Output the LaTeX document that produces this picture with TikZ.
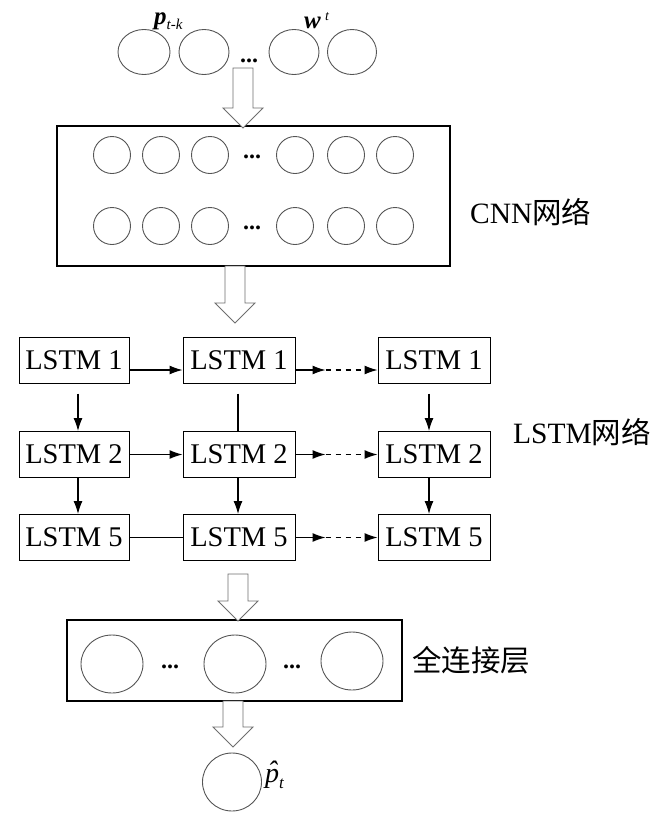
\documentclass[tikz,border=0pt]{standalone}
\usepackage{fontspec}
\setmainfont{Liberation Serif}
\newfontfamily\cjk{Noto Sans CJK SC}
\usetikzlibrary{arrows.meta,shapes.geometric,calc}
\definecolor{circgray}{RGB}{85,85,85}
\definecolor{arrgray}{RGB}{110,110,110}
\newcommand\hollowdown[3]{%
  \draw[hollow] (#1-10,#2) -- (#1+10,#2) -- (#1+10,#3-20) -- (#1+20,#3-20) -- (#1,#3) -- (#1-20,#3-20) -- (#1-10,#3-20) -- cycle;}
\tikzset{
  neuron/.style={ellipse,draw=circgray,line width=0.9pt,inner sep=0pt},
  hollow/.style={draw=arrgray,fill=white,line width=0.9pt,line join=miter},
  bigbox/.style={draw=black,line width=1.1pt,inner sep=0pt},
  lstmbox/.style={draw=black,line width=1pt,inner sep=0pt,minimum height=46pt,
    font=\fontsize{28.5}{30}\selectfont},
  conn/.style={line width=1.1pt,-{Latex[length=13pt,width=9pt]}},
  plain/.style={line width=1.1pt},
  dots/.style={inner sep=0pt,anchor=base,font=\bfseries\fontsize{24}{24}\selectfont},
  lab/.style={inner sep=0pt,anchor=west,font=\fontsize{29.5}{30}\selectfont}
}
\begin{document}
\begin{tikzpicture}[x=1pt,y=-1pt]
\useasboundingbox (0,0) rectangle (655,817);
% input layer
\node[neuron,minimum width=52pt,minimum height=45pt] (i1) at (144,52) {};
\node[neuron,minimum width=50pt,minimum height=45pt] (i2) at (204,52) {};
\node[neuron,minimum width=50pt,minimum height=45pt] (i3) at (294,52) {};
\node[neuron,minimum width=49pt,minimum height=45pt] (i4) at (352,52) {};
\node[dots] (idots) at (249,62) {...};
\node[inner sep=0pt,anchor=base west] (plab) at (154,24)
  {\fontsize{25}{25}\selectfont\textbf{\textit{p}}\raisebox{-5pt}{\fontsize{15}{15}\selectfont\textit{t-k}}};
\node[inner sep=0pt,anchor=base west] (wlab) at (304,28)
  {\fontsize{25}{25}\selectfont\textbf{\textit{w}}\,\raisebox{8pt}{\fontsize{14}{14}\selectfont\textit{t}}};
% CNN
\node[bigbox,minimum width=393pt,minimum height=140pt] (cnn) at (253.5,196) {};
\foreach \r/\yy in {1/155,2/226}{
  \foreach \c/\xx in {1/112,2/161,3/210,4/295,5/346,6/395}{
    \node[neuron,minimum width=37pt,minimum height=37pt] (c\r\c) at (\xx,\yy) {};
  }
  \node[dots] (cdots\r) at (252,\yy+3) {...};
}
\node[lab] (cnnlab) at (470,212) {CNN{\cjk 网络}};
% LSTM grid
\foreach \r/\yy/\rl in {1/360/1,2/454.5/2,3/537.5/5}{
  \node[lstmbox,minimum width=110pt] (l\r1) at (74,\yy) {LSTM \rl};
  \node[lstmbox,minimum width=112pt] (l\r2) at (239,\yy) {LSTM \rl};
  \node[lstmbox,minimum width=112pt] (l\r3) at (434,\yy) {LSTM \rl};
}
\node[lab] (lstmlab) at (513,432) {LSTM{\cjk 网络}};
% horizontal connectors
\draw[conn] ([yshift=-10pt]l11.east) -- ([yshift=-10pt]l12.west);
\draw[conn] ([yshift=-10pt]l12.east) -- ++(30,0) coordinate (m1);
\draw[conn,dash pattern=on 5pt off 5pt] (m1) -- ([yshift=-10pt]l13.west);
\draw[conn] (l21.east) -- (l22.west);
\draw[conn] (l22.east) -- ++(30,0) coordinate (m2);
\draw[conn,dash pattern=on 5pt off 5pt] (m2) -- (l23.west);
\draw[plain] (l31.east) -- (l32.west);
\draw[conn] (l32.east) -- ++(30,0) coordinate (m3);
\draw[conn,dash pattern=on 5pt off 5pt] (m3) -- (l33.west);
% vertical connectors
\draw[conn] ([xshift=4pt,yshift=-10pt]l11.south) -- ([xshift=4pt]l21.north);
\draw[plain] ([xshift=-1pt,yshift=-10pt]l12.south) -- ([xshift=-1pt]l22.north);
\draw[conn] ([xshift=-5pt,yshift=-10pt]l13.south) -- ([xshift=-5pt]l23.north);
\draw[conn] ([xshift=4pt]l21.south) -- ([xshift=4pt]l31.north);
\draw[conn] ([xshift=-1pt]l22.south) -- ([xshift=-1pt]l32.north);
\draw[conn] ([xshift=-5pt]l23.south) -- ([xshift=-5pt]l33.north);
% fully connected layer
\node[bigbox,minimum width=335pt,minimum height=81pt] (fc) at (234.5,660.5) {};
\node[neuron,minimum width=62pt,minimum height=58pt] (f1) at (112,664) {};
\node[neuron,minimum width=62pt,minimum height=58pt] (f2) at (235,664) {};
\node[neuron,minimum width=62pt,minimum height=58pt] (f3) at (352,661) {};
\node[dots] (fdots1) at (170,668) {...};
\node[dots] (fdots2) at (292,668) {...};
\node[lab] (fclab) at (412,660) {\cjk 全连接层};
% output
\node[neuron,minimum width=59pt,minimum height=58pt] (out) at (232,782) {};
\node[inner sep=0pt,anchor=base west] (outlab) at (265,782)
  {\fontsize{28}{28}\selectfont\textit{p}\llap{\raisebox{2pt}{\textit{ˆ}}\kern1pt}\raisebox{-6pt}{\fontsize{17}{17}\selectfont\textit{t}}};
% hollow arrows
\hollowdown{243}{68}{128}
\hollowdown{235}{266}{323}
\hollowdown{238}{574}{621}
\hollowdown{233}{701}{747}
\end{tikzpicture}
\end{document}
